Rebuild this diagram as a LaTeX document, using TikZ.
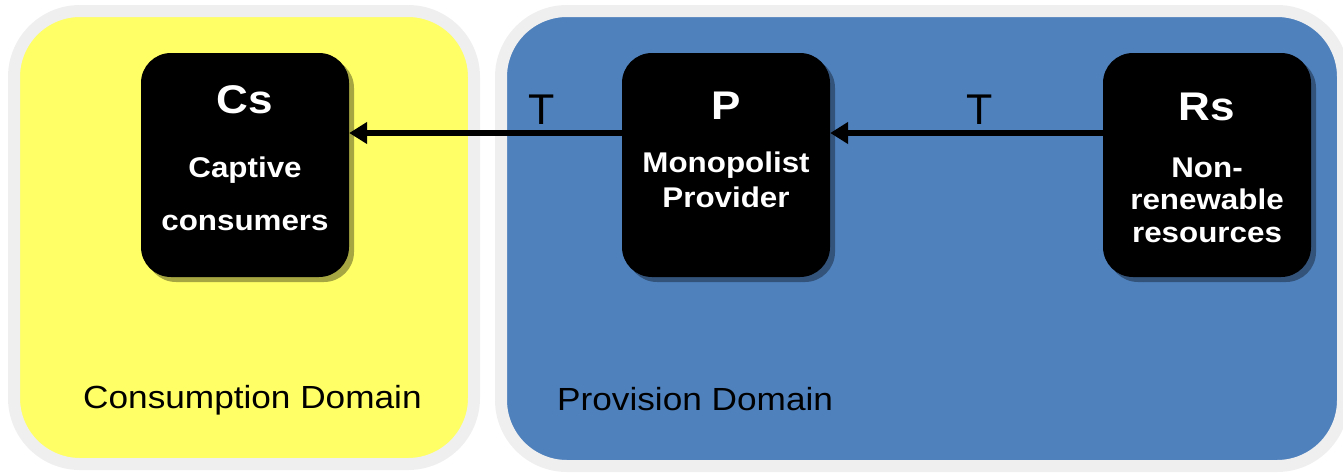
\documentclass[tikz,border=0pt]{standalone}
\usepackage{fontspec}
\setmainfont{Liberation Sans}
\newfontfamily\widefont[FakeStretch=1.1]{Liberation Sans}
\usetikzlibrary{arrows.meta,shadows}
\definecolor{domyellow}{HTML}{FFFF66}
\definecolor{domblue}{HTML}{4F81BD}
\definecolor{domrim}{HTML}{EFEFEF}
\tikzset{
  domainbox/.style={draw=domrim, line width=12pt, rounded corners=66pt},
  agent/.style={fill=black, rounded corners=30pt, minimum width=208pt, minimum height=224pt,
    inner sep=0pt, drop shadow={shadow xshift=5pt, shadow yshift=-5pt, opacity=0.35, fill=black}},
  agtitle/.style={text=white, anchor=base, inner sep=0pt, font=\widefont\bfseries\fontsize{40}{44}\selectfont},
  agtext/.style={text=white, anchor=base, inner sep=0pt, font=\widefont\bfseries\fontsize{28.5}{32}\selectfont},
  domlabel/.style={anchor=base west, inner sep=0pt, font=\widefont\fontsize{32}{36}\selectfont},
  flowlabel/.style={anchor=base, inner sep=0pt, font=\fontsize{43}{46}\selectfont},
  flow/.style={line width=5.5pt, -{Triangle[length=18pt,width=21pt]}},
}
\begin{document}
\begin{tikzpicture}[x=1pt, y=-1pt]
\useasboundingbox (0,0) rectangle (1343,472);

% the two domains
\path[domainbox, fill=domyellow] (14,11) rectangle (474,464);
\path[domainbox, fill=domblue] (501,11) rectangle (1343,466);

% agents
\node[agent] (cs) at (245,165) {};
\node[agent] (p)  at (726,165) {};
\node[agent] (rs) at (1207,165) {};

\node[agtitle] (cst) at (245,113) {Cs};
\node[agtext]  (cs1) at (245,177) {Captive};
\node[agtext]  (cs2) at (245,230) {consumers};

\node[agtitle] (pt) at (726,119) {P};
\node[agtext]  (p1) at (726,172) {Monopolist};
\node[agtext]  (p2) at (726,207) {Provider};

\node[agtitle] (rst) at (1207,120) {Rs};
\node[agtext]  (rs1) at (1207,177) {Non-};
\node[agtext]  (rs2) at (1207,209) {renewable};
\node[agtext]  (rs3) at (1207,242) {resources};

% transfers
\draw[flow] (rs.west |- 0,133) -- (p.east |- 0,133);
\draw[flow] (p.west |- 0,133) -- (cs.east |- 0,133);
\node[flowlabel] (t1) at (542,124) {T};
\node[flowlabel] (t2) at (980,124) {T};

% domain names
\node[domlabel] (cdom) at (83,408) {Consumption Domain};
\node[domlabel] (pdom) at (557,410) {Provision Domain};
\end{tikzpicture}
\end{document}
